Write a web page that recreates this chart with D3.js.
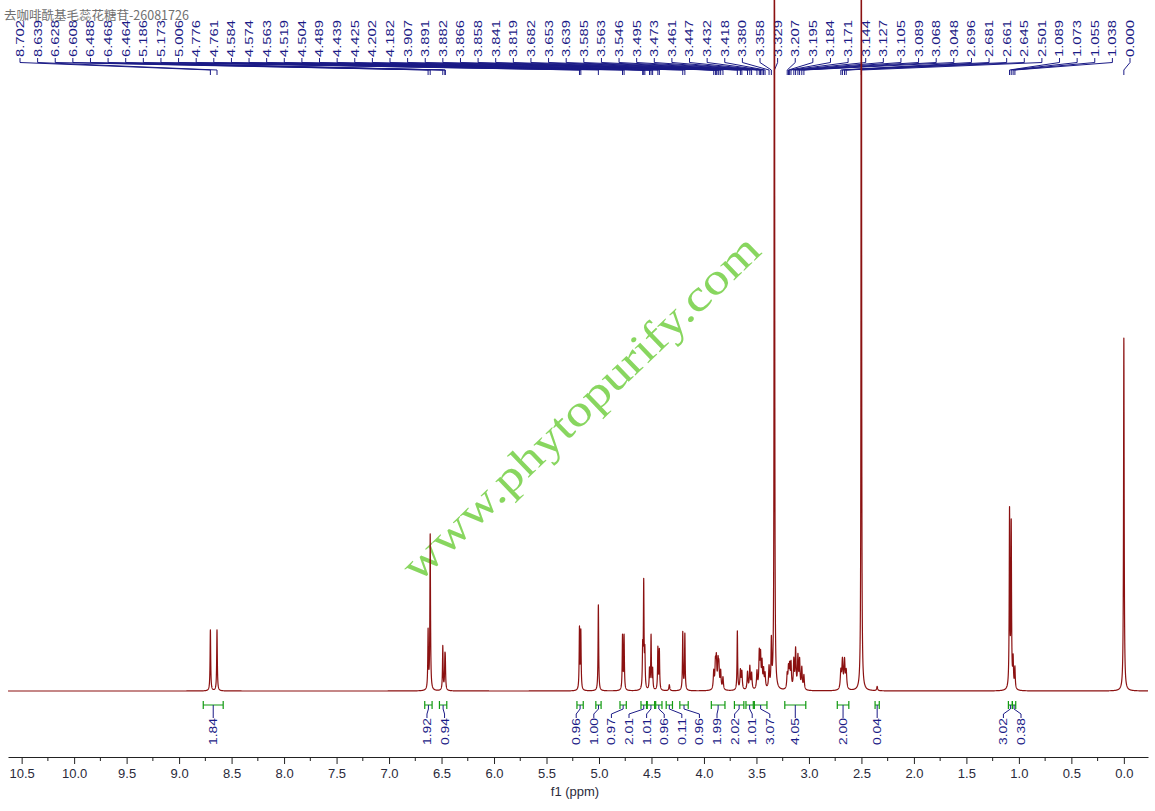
<!DOCTYPE html>
<html><head><meta charset="utf-8">
<script src="https://cdn.jsdelivr.net/npm/d3@7"></script>
<style>body{margin:0;background:#fff}svg{display:block}</style>
</head><body>
<svg id="c" width="1155" height="811"></svg>
<script>
// ---------------- DATA ----------------
const title = "去咖啡酰基毛蕊花糖苷-26081726";
const watermark = "www.phytopurify.com";
const axisTitle = "f1 (ppm)";
const tickValues = [10.5,10.0,9.5,9.0,8.5,8.0,7.5,7.0,6.5,6.0,5.5,5.0,4.5,4.0,3.5,3.0,2.5,2.0,1.5,1.0,0.5,0.0];
const tickLabels = ["10.5","10.0","9.5","9.0","8.5","8.0","7.5","7.0","6.5","6.0","5.5","5.0","4.5","4.0","3.5","3.0","2.5","2.0","1.5","1.0","0.5","0.0"];
// picked peak labels (ppm)
const peakPpm = [8.702,8.639,6.628,6.608,6.488,6.468,6.464,5.186,5.173,5.006,4.776,4.761,4.584,4.574,4.563,4.519,4.504,4.489,4.439,4.425,4.202,4.182,3.907,3.891,3.882,3.866,3.858,3.841,3.819,3.682,3.653,3.639,3.585,3.563,3.546,3.495,3.473,3.461,3.447,3.432,3.418,3.380,3.358,3.329,3.207,3.195,3.184,3.171,3.144,3.127,3.105,3.089,3.068,3.048,2.696,2.681,2.661,2.645,2.501,1.089,1.073,1.055,1.038,0.000];
// estimated line intensities (TMS = 100)
const peakHeight = [17.3,17.3,16.5,44,12.5,7.5,6.5,17.3,16.4,24.4,15.3,15.3,11,29.7,10,5.7,15.3,5.7,11.9,11.3,16.4,15.9,5,7,8,7,6,5,3.5,16.7,5.4,5,5,6.5,4.5,5,10,9,7,5,4,6,13,400,4,5.5,6,7,8,11,9,8,6,4,5,8,8,5,400,50,46,8,6,100];
// line half widths (ppm)
const peakHwhm = [0.0035,0.0035,0.0035,0.0035,0.0035,0.0035,0.0035,0.0035,0.0035,0.0035,0.0035,0.0035,0.0035,0.0035,0.0035,0.0035,0.0035,0.0035,0.0035,0.0035,0.0035,0.0035,0.005,0.005,0.005,0.005,0.005,0.005,0.005,0.0035,0.005,0.005,0.005,0.005,0.005,0.005,0.005,0.005,0.005,0.005,0.005,0.005,0.004,0.0022,0.005,0.005,0.005,0.005,0.005,0.005,0.005,0.005,0.005,0.005,0.006,0.006,0.006,0.006,0.0022,0.0035,0.0035,0.004,0.004,0.0035];
// unlabelled small lines
const extraPpm = [4.330, 2.350];
const extraHeight = [1.7, 1.2];
const extraHwhm = [0.005, 0.005];
// integrals
const integFrom = [8.77,6.66,6.52,5.21,5.03,4.80,4.60,4.54,4.46,4.36,4.23,3.93,3.71,3.60,3.52,3.23,2.73,2.37,1.10,1.062];
const integTo   = [8.58,6.59,6.45,5.15,4.98,4.74,4.547,4.47,4.40,4.30,4.15,3.80,3.62,3.53,3.40,3.03,2.62,2.33,1.062,1.03];
const integValue = ["1.84","1.92","0.94","0.96","1.00","0.97","2.01","1.01","0.96","0.11","0.96","1.99","2.02","1.01","3.07","4.05","2.00","0.04","3.02","0.38"];

// ---------------- LAYOUT ----------------
const svg = d3.select("#c");
const x = d3.scaleLinear().domain([10.63, -0.23]).range([8, 1148]);
const y = d3.scaleLinear().domain([0, 100]).range([691, 338]);
const navy = "#1b1b86";
const numFont = "'Liberation Sans', Arial, sans-serif";

// title
svg.append("text").attr("x", 4).attr("y", 20).attr("font-size", 12.5)
  .attr("font-family", "'Noto Sans CJK SC', sans-serif").attr("fill", "#707070").text(title);

// watermark
svg.append("text")
  .attr("transform", "translate(580,407) rotate(-43.8)")
  .attr("text-anchor", "middle").attr("dy", "0.35em")
  .attr("font-family", "'Liberation Serif', 'Times New Roman', serif")
  .attr("font-size", 44).attr("fill", "#7bd24e").attr("fill-opacity", 0.9)
  .attr("textLength", 478).attr("lengthAdjust", "spacingAndGlyphs")
  .text(watermark);

// peak labels at top
const lx = d3.scalePoint().domain(d3.range(peakPpm.length)).range([20, 1130]);
const gLab = svg.append("g");
gLab.selectAll("path").data(peakPpm).join("path")
  .attr("d", (d, i) => `M${lx(i)},58 L${lx(i)},62.5 L${x(d)},70 L${x(d)},75`)
  .attr("fill", "none").attr("stroke", navy).attr("stroke-width", 1);
gLab.selectAll("text").data(peakPpm).join("text")
  .attr("transform", (d, i) => `translate(${lx(i)},57) rotate(-90)`)
  .attr("dy", "0.36em").attr("font-family", numFont).attr("font-size", 11)
  .attr("textLength", 37).attr("lengthAdjust", "spacingAndGlyphs")
  .attr("fill", navy).text(d => d.toFixed(3));

// integrals
const gInt = svg.append("g");
const centers = integFrom.map((f, i) => x((f + integTo[i]) / 2));
function spread(xs, gap) {
  const order = d3.range(xs.length).sort((a, b) => xs[a] - xs[b]);
  let cl = order.map(i => ({ sum: xs[i], n: 1, idx: [i] }));
  let changed = true;
  while (changed) {
    changed = false;
    for (let k = 0; k < cl.length - 1; k++) {
      const a = cl[k], b = cl[k + 1];
      const aEnd = a.sum / a.n + (a.n - 1) * gap / 2;
      const bStart = b.sum / b.n - (b.n - 1) * gap / 2;
      if (bStart - aEnd < gap) {
        cl.splice(k, 2, { sum: a.sum + b.sum, n: a.n + b.n, idx: a.idx.concat(b.idx) });
        changed = true; break;
      }
    }
  }
  const out = new Array(xs.length);
  cl.forEach(c => {
    const m = c.sum / c.n;
    c.idx.forEach((id, j) => out[id] = m + (j - (c.n - 1) / 2) * gap);
  });
  return out;
}
const labX = spread(centers, 17.6);
const green = "#119a11";
integValue.forEach((v, i) => {
  const x1 = x(integFrom[i]), x2 = x(integTo[i]);
  gInt.append("path")
    .attr("d", `M${x1},701 L${x1},709 M${x1},705 L${x2},705 M${x2},701 L${x2},709`)
    .attr("stroke", green).attr("stroke-width", 1.2).attr("fill", "none");
  gInt.append("path")
    .attr("d", `M${centers[i]},705 L${centers[i]},709 L${labX[i]},714 L${labX[i]},718`)
    .attr("stroke", navy).attr("stroke-width", 1).attr("fill", "none");
  gInt.append("text")
    .attr("transform", `translate(${labX[i]},745) rotate(-90)`)
    .attr("dy", "0.36em").attr("font-family", numFont).attr("font-size", 11)
    .attr("textLength", 27).attr("lengthAdjust", "spacingAndGlyphs")
    .attr("fill", navy).text(v);
});

// spectrum
const allPpm = peakPpm.concat(extraPpm);
const allH = peakHeight.concat(extraHeight);
const allW = peakHwhm.concat(extraHwhm);
const [dMax, dMin] = x.domain();
let samples = d3.range(dMin, dMax, 0.0007).concat(allPpm);
samples.sort((a, b) => b - a);
const spec = samples.map(p => {
  let s = 0;
  for (let k = 0; k < allPpm.length; k++) {
    const d = p - allPpm[k], g = allW[k];
    s += allH[k] * g * g / (d * d + g * g);
  }
  return [p, s];
});
svg.append("path").datum(spec)
  .attr("d", d3.line().x(d => x(d[0])).y(d => Math.max(-5, y(d[1]))))
  .attr("fill", "none").attr("stroke", "#8b1111").attr("stroke-width", 1.2)
  .attr("stroke-linejoin", "round");

// axis
const gAx = svg.append("g").attr("transform", "translate(0,757)");
gAx.call(d3.axisBottom(x).tickValues(tickValues).tickSize(7).tickSizeOuter(0).tickPadding(5)
  .tickFormat((d, i) => tickLabels[i]));
gAx.select(".domain").attr("stroke", "#222");
gAx.selectAll(".tick line").attr("stroke", "#222");
gAx.selectAll(".tick text").attr("font-size", 13).attr("font-family", numFont).attr("fill", "#2a2a3a");
const minor = tickValues.slice(0, -1).map(v => v - 0.25);
gAx.selectAll(".minor").data(minor).join("line").attr("class", "minor")
  .attr("x1", d => x(d)).attr("x2", d => x(d)).attr("y1", 0).attr("y2", 4).attr("stroke", "#222");
svg.append("text").attr("x", 575).attr("y", 796).attr("text-anchor", "middle")
  .attr("font-family", numFont).attr("font-size", 13).attr("fill", "#2a2a3a").text(axisTitle);
</script>
</body></html>
